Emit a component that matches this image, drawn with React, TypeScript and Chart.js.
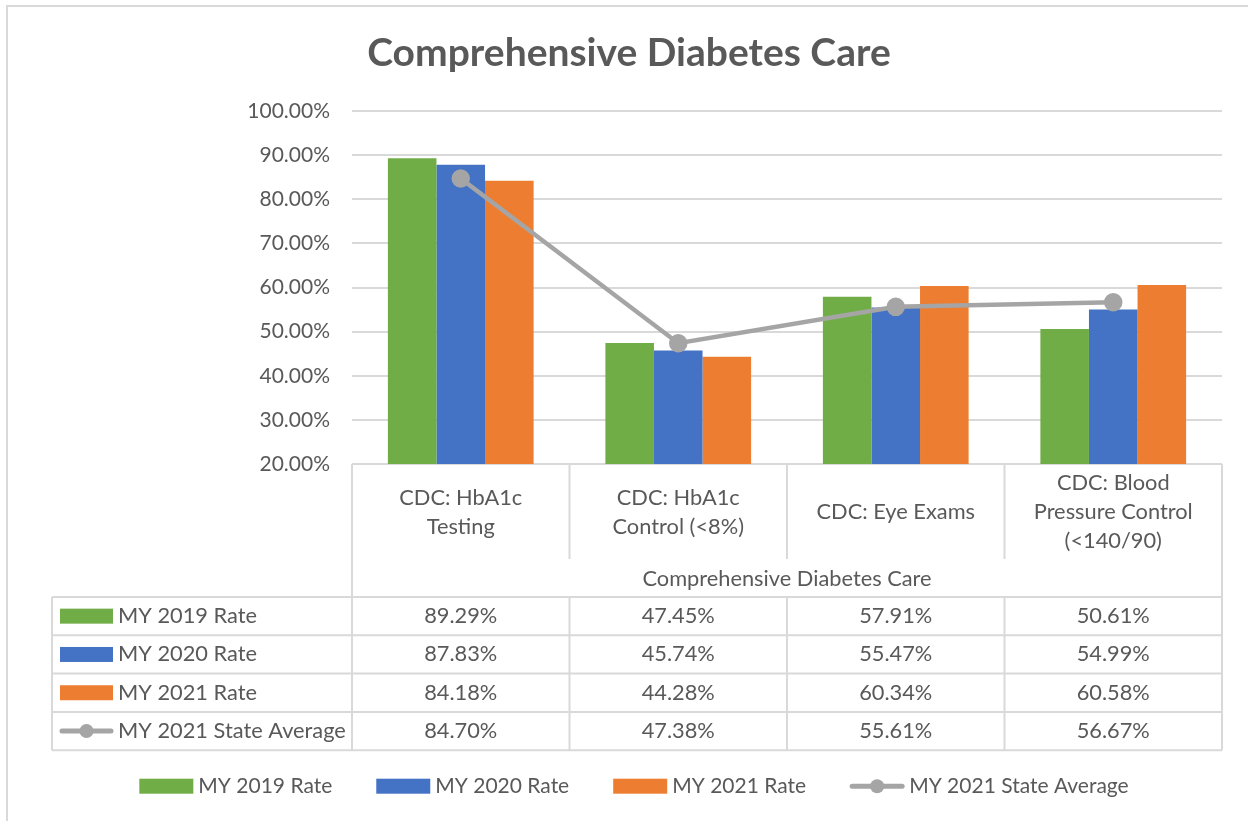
import React, { useEffect, useRef } from "react";
import { Chart, registerables } from "chart.js";

Chart.register(...registerables);

const categories: string[][] = [
  ["CDC: HbA1c", "Testing"],
  ["CDC: HbA1c", "Control (<8%)"],
  ["CDC: Eye Exams"],
  ["CDC: Blood", "Pressure Control", "(<140/90)"],
];
const groupLabel = "Comprehensive Diabetes Care";
const titleText = "Comprehensive Diabetes Care";

const seriesNames = ["MY 2019 Rate", "MY 2020 Rate", "MY 2021 Rate", "MY 2021 State Average"];
const my2019 = [89.29, 47.45, 57.91, 50.61];
const my2020 = [87.83, 45.74, 55.47, 54.99];
const my2021 = [84.18, 44.28, 60.34, 60.58];
const stateAvg = [84.7, 47.38, 55.61, 56.67];

const yTicks = [20, 30, 40, 50, 60, 70, 80, 90, 100];

const GREEN = "#70AD47";
const BLUE = "#4472C4";
const ORANGE = "#ED7D31";
const GRAY = "#A5A5A5";
const TEXT = "#595959";
const GRID = "#D9D9D9";
const FONT = "Lato, 'Open Sans', sans-serif";
const FS = 21;
const FS_TABLE = 21.8;

function drawKey(ctx: CanvasRenderingContext2D, kind: number, x: number, y: number, w: number) {
  const colors = [GREEN, BLUE, ORANGE, GRAY];
  if (kind < 3) {
    ctx.fillStyle = colors[kind];
    ctx.fillRect(x, y - 7.5, w, 15);
  } else {
    ctx.strokeStyle = GRAY;
    ctx.lineWidth = 5;
    ctx.lineCap = "round";
    ctx.beginPath();
    ctx.moveTo(x + 2, y);
    ctx.lineTo(x + w - 2, y);
    ctx.stroke();
    ctx.fillStyle = GRAY;
    ctx.beginPath();
    ctx.arc(x + w / 2, y, 7, 0, Math.PI * 2);
    ctx.fill();
    ctx.lineCap = "butt";
  }
}

const tablePlugin = {
  id: "dataTable",
  afterDraw(chart: any) {
    const ctx: CanvasRenderingContext2D = chart.ctx;
    const { left, right, bottom } = chart.chartArea;
    const n = categories.length;
    const colW = (right - left) / n;
    const values = [my2019, my2020, my2021, stateAvg];

    ctx.save();
    // outer chart border
    ctx.strokeStyle = GRID;
    ctx.lineWidth = 2;
    ctx.beginPath();
    ctx.moveTo(7, chart.height + 10);
    ctx.lineTo(7, 6);
    ctx.lineTo(chart.width + 10, 6);
    ctx.stroke();

    const headerEnd = bottom + 95;
    const groupEnd = bottom + 133;
    const rowH = 38.3;
    const tableEnd = groupEnd + rowH * 4;
    const keyLeft = 52;

    ctx.strokeStyle = GRID;
    ctx.lineWidth = 2;
    for (let i = 0; i <= n; i++) {
      const x = left + i * colW;
      ctx.beginPath();
      if (i === 0 || i === n) {
        ctx.moveTo(x, bottom);
        ctx.lineTo(x, tableEnd);
      } else {
        ctx.moveTo(x, bottom);
        ctx.lineTo(x, headerEnd);
        ctx.moveTo(x, groupEnd);
        ctx.lineTo(x, tableEnd);
      }
      ctx.stroke();
    }
    ctx.beginPath();
    ctx.moveTo(keyLeft, groupEnd);
    ctx.lineTo(keyLeft, tableEnd);
    ctx.stroke();
    for (let r = 0; r <= 4; r++) {
      const y = groupEnd + r * rowH;
      ctx.beginPath();
      ctx.moveTo(keyLeft, y);
      ctx.lineTo(right, y);
      ctx.stroke();
    }

    ctx.fillStyle = TEXT;
    ctx.font = `${FS_TABLE}px ${FONT}`;
    ctx.textAlign = "center";
    ctx.textBaseline = "middle";
    const lineH = 29;
    const hc = bottom + 48;
    categories.forEach((lines, i) => {
      const cx = left + (i + 0.5) * colW;
      const start = hc - ((lines.length - 1) * lineH) / 2;
      lines.forEach((t, j) => ctx.fillText(t, cx, start + j * lineH));
    });
    ctx.fillText(groupLabel, (left + right) / 2, (headerEnd + groupEnd) / 2 + 1);

    for (let r = 0; r < 4; r++) {
      const cy = groupEnd + (r + 0.5) * rowH;
      drawKey(ctx, r, 60, cy, 53);
      ctx.fillStyle = TEXT;
      ctx.font = `${FS_TABLE}px ${FONT}`;
      ctx.textAlign = "left";
      ctx.textBaseline = "middle";
      ctx.fillText(seriesNames[r], 118, cy);
      ctx.textAlign = "center";
      values[r].forEach((v, i) => {
        ctx.fillText(v.toFixed(2) + "%", left + (i + 0.5) * colW, cy);
      });
    }

    // bottom legend
    const ly = tableEnd + 36;
    const keyW = 54;
    const gapKeyText = 5;
    const gapItems = 44;
    ctx.font = `${FS}px ${FONT}`;
    const widths = seriesNames.map((s) => keyW + gapKeyText + ctx.measureText(s).width);
    const total = widths.reduce((a, b) => a + b, 0) + gapItems * (seriesNames.length - 1);
    let x = chart.width / 2 + 10 - total / 2;
    seriesNames.forEach((s, i) => {
      drawKey(ctx, i, x, ly, keyW);
      ctx.fillStyle = TEXT;
      ctx.textAlign = "left";
      ctx.textBaseline = "middle";
      ctx.fillText(s, x + keyW + gapKeyText, ly);
      x += widths[i] + gapItems;
    });
    ctx.restore();
  },
};

export default function App() {
  const ref = useRef<HTMLCanvasElement | null>(null);
  useEffect(() => {
    document.body.style.margin = "0";
    if (!ref.current) return;
    const chart = new Chart(ref.current, {
      type: "bar",
      data: {
        labels: categories.map((c) => c.join(" ")),
        datasets: [
          { type: "line", label: seriesNames[3], data: stateAvg, borderColor: GRAY, backgroundColor: GRAY, borderWidth: 4.5, pointRadius: 7, pointBackgroundColor: GRAY, pointBorderColor: GRAY, order: 0 } as any,
          { label: seriesNames[0], data: my2019, backgroundColor: GREEN, order: 1 },
          { label: seriesNames[1], data: my2020, backgroundColor: BLUE, order: 1 },
          { label: seriesNames[2], data: my2021, backgroundColor: ORANGE, order: 1 },
        ],
      },
      options: {
        responsive: false,
        animation: false,
        layout: { padding: { left: 36, right: 26, top: 0, bottom: 357 } },
        datasets: { bar: { categoryPercentage: 0.67, barPercentage: 1 } },
        plugins: {
          legend: { display: false },
          tooltip: { enabled: false },
          title: {
            display: true,
            text: titleText,
            color: TEXT,
            font: { family: FONT, size: 39, weight: "bold", lineHeight: 1.2 },
            padding: { top: 29.6, bottom: 34.6 },
          },
        },
        scales: {
          x: { display: false, offset: true },
          y: {
            min: 20,
            max: 100,
            afterFit: (s: any) => {
              s.width = 316;
            },
            afterBuildTicks: (s: any) => {
              s.ticks = yTicks.map((v) => ({ value: v }));
            },
            border: { display: false },
            grid: { color: GRID, lineWidth: 2, drawTicks: false },
            ticks: {
              color: TEXT,
              padding: 22,
              font: { family: FONT, size: FS },
              callback: (v: any) => Number(v).toFixed(2) + "%",
            },
          },
        },
      },
      plugins: [tablePlugin],
    });
    return () => chart.destroy();
  }, []);
  return (
    <div style={{ width: 1248, height: 821 }}>
      <canvas ref={ref} width={1248} height={821} style={{ display: "block" }} />
    </div>
  );
}
